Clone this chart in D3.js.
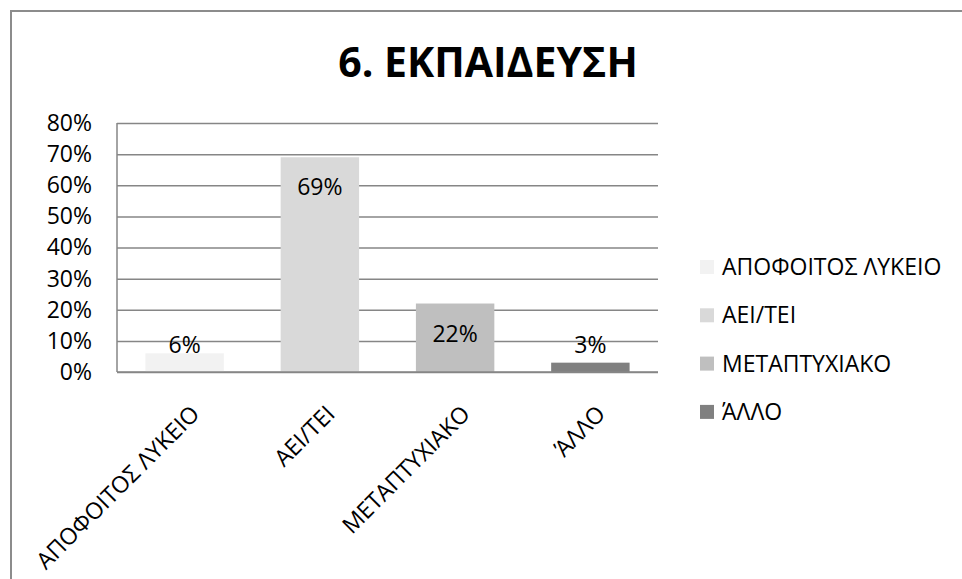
<!DOCTYPE html>
<html lang="el">
<head>
<meta charset="UTF-8">
<title>6. ΕΚΠΑΙΔΕΥΣΗ</title>
<script src="https://cdn.jsdelivr.net/npm/d3@7"></script>
<style>
    body { margin: 0; background: #fff; }
    text { font-family: "Open Sans", "Noto Sans", sans-serif; fill: #000; }
    .grid line { stroke: #868686; stroke-width: 1.5; }
    .grid path { display: none; }
    .axis path, .axis line { display: none; }
</style>
</head>
<body>
<script>
    // δεδομένα
    let categories = ['ΑΠΟΦΟΙΤΟΣ ΛΥΚΕΙΟ', 'ΑΕΙ/ΤΕΙ', 'ΜΕΤΑΠΤΥΧΙΑΚΟ', 'ΆΛΛΟ'];
    let values = [0.06, 0.69, 0.22, 0.03];
    let colors = ['#f2f2f2', '#d9d9d9', '#bfbfbf', '#808080'];
    let yTicks = [0, 0.1, 0.2, 0.3, 0.4, 0.5, 0.6, 0.7, 0.8];

    let width = 962, height = 579;
    let plot = {left: 117, right: 658, top: 123, bottom: 372};
    let fontSize = '23px';

    let svg = d3.select('body').append('svg')
        .attr('width', width)
        .attr('height', height);

    // πλαίσιο
    svg.append('rect')
        .attr('x', 11).attr('y', 11)
        .attr('width', width).attr('height', height)
        .attr('fill', 'none')
        .attr('stroke', '#8c8c8c')
        .attr('stroke-width', 2);

    // τίτλος
    svg.append('text')
        .attr('x', 488).attr('y', 77)
        .attr('text-anchor', 'middle')
        .style('font-size', '41px')
        .style('font-weight', 'bold')
        .text('6. ΕΚΠΑΙΔΕΥΣΗ');

    let x = d3.scaleBand()
        .domain(categories)
        .range([plot.left, plot.right])
        .paddingInner(0.42)
        .paddingOuter(0.21);

    let y = d3.scaleLinear()
        .domain([0, 0.8])
        .range([plot.bottom, plot.top]);

    // γραμμές πλέγματος
    svg.append('g')
        .attr('class', 'grid')
        .attr('transform', 'translate(' + plot.left + ',0)')
        .call(d3.axisRight(y).tickValues(yTicks).tickSize(plot.right - plot.left).tickFormat(''));

    // κατακόρυφος άξονας
    svg.append('line')
        .attr('x1', plot.left).attr('x2', plot.left)
        .attr('y1', plot.top).attr('y2', plot.bottom)
        .attr('stroke', '#868686').attr('stroke-width', 1.5);

    // ετικέτες άξονα y
    let yAxis = svg.append('g')
        .attr('class', 'axis')
        .attr('transform', 'translate(92,0)')
        .call(d3.axisLeft(y).tickValues(yTicks).tickSize(0).tickFormat(d3.format('.0%')));
    yAxis.selectAll('text')
        .attr('x', 0)
        .style('font-size', fontSize)
        .attr('text-anchor', 'end');

    // ράβδοι
    svg.selectAll('.bar')
        .data(values)
        .enter()
        .append('rect')
        .attr('class', 'bar')
        .attr('x', (d, i) => x(categories[i]))
        .attr('y', d => y(d))
        .attr('width', x.bandwidth())
        .attr('height', d => plot.bottom - y(d))
        .attr('fill', (d, i) => colors[i]);

    // άξονας x (πάνω από τις ράβδους)
    svg.append('line')
        .attr('x1', plot.left).attr('x2', plot.right)
        .attr('y1', plot.bottom).attr('y2', plot.bottom)
        .attr('stroke', '#868686').attr('stroke-width', 1.5);

    // ετικέτες τιμών
    svg.selectAll('.val')
        .data(values)
        .enter()
        .append('text')
        .attr('class', 'val')
        .attr('x', (d, i) => x(categories[i]) + x.bandwidth() / 2)
        .attr('y', d => Math.min(y(d) + 38, plot.bottom - 19))
        .attr('text-anchor', 'middle')
        .style('font-size', fontSize)
        .text(d => d3.format('.0%')(d));

    // ετικέτες κατηγοριών
    svg.selectAll('.cat')
        .data(categories)
        .enter()
        .append('text')
        .attr('class', 'cat')
        .attr('transform', d => 'translate(' + (x(d) + x.bandwidth() / 2 + 5) + ',' + (plot.bottom + 32) + ') rotate(-45)')
        .attr('text-anchor', 'end')
        .attr('dy', '0.7em')
        .style('font-size', fontSize)
        .text(d => d);

    // υπόμνημα
    let legend = svg.selectAll('.leg')
        .data(categories)
        .enter()
        .append('g')
        .attr('class', 'leg')
        .attr('transform', (d, i) => 'translate(700,' + (260 + i * 48.3) + ')');
    legend.append('rect')
        .attr('width', 14).attr('height', 14)
        .attr('fill', (d, i) => colors[i]);
    legend.append('text')
        .attr('x', 22).attr('y', 7)
        .attr('dy', '0.35em')
        .style('font-size', fontSize)
        .text(d => d);
</script>
</body>
</html>
